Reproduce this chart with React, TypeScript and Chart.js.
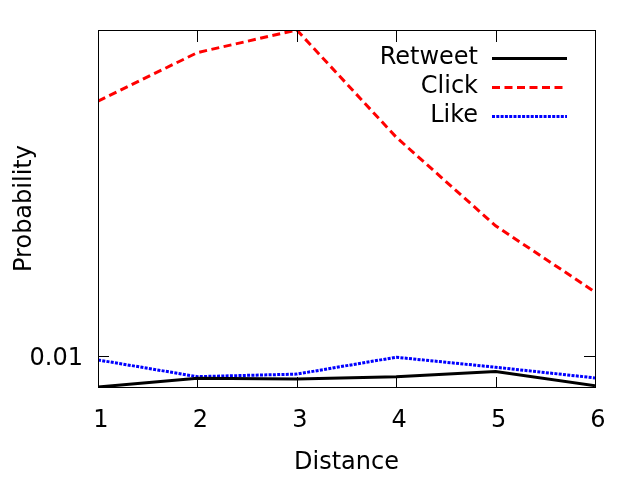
import React, { useEffect, useRef } from 'react';
import { Chart, registerables } from 'chart.js';

Chart.register(...registerables);

const distances = [1, 2, 3, 4, 5, 6];
const retweet = [0.009, 0.00927, 0.00925, 0.00932, 0.00948, 0.00904];
const click = [0.0236, 0.0278, 0.03, 0.0209, 0.0155, 0.0124];
const like = [0.00986, 0.00932, 0.0094, 0.00995, 0.00962, 0.00928];
const yTicks = [0.01];
const seriesNames = ['Retweet', 'Click', 'Like'];
const xTitle = 'Distance';
const yTitle = 'Probability';

const FONT = '"DejaVu Sans", sans-serif';

const framePlugin = {
  id: 'frame',
  afterDatasetsDraw(chart: any) {
    const { ctx, chartArea, scales } = chart;
    const { left, right, top, bottom } = chartArea;
    ctx.save();
    ctx.strokeStyle = '#000';
    ctx.lineWidth = 1;
    ctx.setLineDash([]);
    ctx.strokeRect(left + 0.5, top + 0.5, right - left, bottom - top);
    ctx.beginPath();
    for (const v of distances) {
      const px = Math.round(scales.x.getPixelForValue(v)) + 0.5;
      ctx.moveTo(px, bottom);
      ctx.lineTo(px, bottom - 10);
      ctx.moveTo(px, top);
      ctx.lineTo(px, top + 12);
    }
    for (const v of yTicks) {
      const py = Math.round(scales.y.getPixelForValue(v)) + 0.5;
      ctx.moveTo(left, py);
      ctx.lineTo(left + 11, py);
      ctx.moveTo(right, py);
      ctx.lineTo(right - 11, py);
    }
    ctx.stroke();
    ctx.restore();
  },
  afterDraw(chart: any) {
    const { ctx, chartArea } = chart;
    const ds = chart.data.datasets;
    ctx.save();
    ctx.font = '24px ' + FONT;
    ctx.textAlign = 'right';
    ctx.textBaseline = 'middle';
    const textRight = chartArea.right - 117;
    const lineStart = chartArea.right - 103;
    const lineEnd = chartArea.right - 28;
    ds.forEach((d: any, i: number) => {
      const y = chartArea.top + 28 + i * 29;
      ctx.fillStyle = '#000';
      ctx.fillText(d.label, textRight, y);
      ctx.strokeStyle = d.borderColor;
      ctx.lineWidth = d.borderWidth;
      ctx.setLineDash(d.borderDash || []);
      ctx.beginPath();
      ctx.moveTo(lineStart, y + 0.5);
      ctx.lineTo(lineEnd, y + 0.5);
      ctx.stroke();
    });
    ctx.restore();
  },
};

export default function App() {
  const ref = useRef<HTMLCanvasElement | null>(null);
  useEffect(() => {
    if (!ref.current) return;
    const mk = (arr: number[]) => distances.map((x, i) => ({ x, y: arr[i] }));
    const chart = new Chart(ref.current, {
      type: 'line',
      data: {
        datasets: [
          { label: seriesNames[0], data: mk(retweet), borderColor: '#000000', borderWidth: 3, pointRadius: 0, fill: false, tension: 0 },
          { label: seriesNames[1], data: mk(click), borderColor: '#ff0000', borderWidth: 3, borderDash: [8, 4.5], pointRadius: 0, fill: false, tension: 0 },
          { label: seriesNames[2], data: mk(like), borderColor: '#0000ff', borderWidth: 3, borderDash: [3, 1.3], pointRadius: 0, fill: false, tension: 0 },
        ],
      },
      options: {
        animation: false,
        responsive: false,
        devicePixelRatio: 1,
        layout: { padding: { top: 30, right: 45, left: 0, bottom: 0 } },
        plugins: { legend: { display: false }, tooltip: { enabled: false }, title: { display: false } },
        scales: {
          x: {
            type: 'linear',
            min: 1,
            max: 6,
            grid: { display: false, drawTicks: false },
            border: { display: false },
            ticks: {
              stepSize: 1,
              padding: 19,
              labelOffset: 3,
              color: '#000',
              font: { family: FONT, size: 24 },
              callback: (v: any) => String(v),
            },
            title: { display: true, text: xTitle, color: '#000', font: { family: FONT, size: 24 }, padding: { top: 0, bottom: 3 } },
            afterFit: (s: any) => { s.height = 93; },
          },
          y: {
            type: 'logarithmic',
            min: 0.009,
            max: 0.03,
            grid: { display: false, drawTicks: false },
            border: { display: false },
            afterBuildTicks: (s: any) => { s.ticks = yTicks.map((v) => ({ value: v })); },
            ticks: {
              padding: 15,
              labelOffset: 3,
              color: '#000',
              font: { family: FONT, size: 24 },
              callback: (v: any) => String(v),
            },
            title: { display: true, text: yTitle, color: '#000', font: { family: FONT, size: 24 }, padding: { top: 10, bottom: 0 } },
            afterFit: (s: any) => { s.width = 98; },
          },
        },
      },
      plugins: [framePlugin],
    } as any);
    return () => chart.destroy();
  }, []);
  return (
    <div style={{ position: 'fixed', left: 0, top: 0, width: 640, height: 480, background: '#fff' }}>
      <canvas ref={ref} width={640} height={480} />
    </div>
  );
}
